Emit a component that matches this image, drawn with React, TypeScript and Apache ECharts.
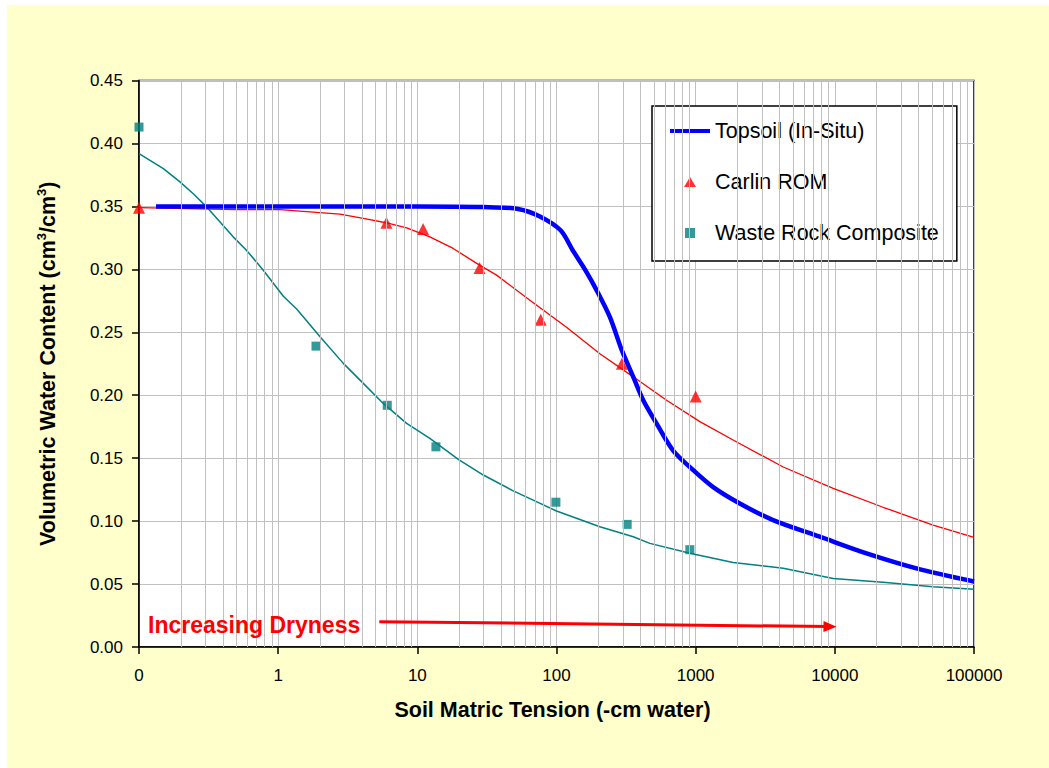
import React, { useEffect, useRef } from 'react';
import * as echarts from 'echarts';

const FONT = '"Liberation Sans", Arial, Helvetica, sans-serif';

// Soil matric tension (-cm water) vs volumetric water content (cm3/cm3)
const topsoilCurve: [number, number][] = [
  [0.1325, 0.35], [1, 0.35], [10, 0.35], [30, 0.3495], [53, 0.348], [76, 0.342],
  [107, 0.331], [131, 0.315], [160, 0.3], [194, 0.2835], [242, 0.262], [294, 0.236],
  [356, 0.2146], [420, 0.196], [523, 0.1776], [689, 0.156], [960, 0.1405], [1336, 0.127],
  [2075, 0.114], [3600, 0.1008], [7800, 0.0876], [16900, 0.0744], [38600, 0.0625], [100000, 0.052],
];

const carlinFit: [number, number][] = [
  [0.1, 0.349], [0.5, 0.3475], [1.03, 0.3475], [2.78, 0.3438], [4.09, 0.3404], [6.35, 0.3364],
  [8.38, 0.333], [12.3, 0.3258], [18.1, 0.3166], [26.7, 0.3047], [37.1, 0.2954], [64.4, 0.2755],
  [118, 0.254], [205, 0.233], [356, 0.2146], [618, 0.196], [1072, 0.179], [1858, 0.1644],
  [4256, 0.143], [9730, 0.126], [22200, 0.111], [50800, 0.0969], [100000, 0.087],
];

const wasteFit: [number, number][] = [
  [0.1, 0.392], [0.1496, 0.38], [0.197, 0.3695], [0.2455, 0.36], [0.31, 0.349], [0.475, 0.3258],
  [0.594, 0.315], [0.782, 0.2993], [1.089, 0.2786], [1.358, 0.2685], [2.0, 0.2464], [2.94, 0.2253],
  [4.09, 0.2094], [5.69, 0.1935], [8.38, 0.1776], [12.3, 0.1657], [19.7, 0.149],
  [29.8, 0.1366], [48.9, 0.124], [68, 0.1167], [100, 0.108], [205, 0.0955], [356, 0.0876],
  [469, 0.0823], [908, 0.0744], [1858, 0.0672], [4256, 0.0625], [9730, 0.0545], [22200, 0.0514],
  [50800, 0.0479], [100000, 0.0458],
];

const carlinPoints: [number, number][] = [
  [0.1, 0.349], [6, 0.337], [11, 0.332], [28, 0.301], [77, 0.26], [295, 0.225], [1000, 0.199],
];

const wastePoints: [number, number][] = [
  [0.1, 0.413], [1.87, 0.239], [6.08, 0.192], [13.6, 0.159], [99, 0.115], [322, 0.0974], [908, 0.0773],
];

const legendNames = ['Topsoil (In-Situ)', 'Carlin ROM', 'Waste Rock Composite'];
const decadeStarts = [0.1, 1, 10, 100, 1000, 10000];
const minorSteps = [2, 3, 4, 5, 6, 7, 8, 9];
const arrowStart: [number, number] = [5.33, 0.0201];
const arrowEnd: [number, number] = [9230, 0.0162];
const annotationText = 'Increasing Dryness';

// legend marker icons drawn inside a 40 x 11 box (keeps their own size)
const ICON_BOX = 'M0,0L0.01,0Z M40,11L39.99,11Z ';
const triIcon = 'path://' + ICON_BOX + 'M14,10.5L20,0.5L26,10.5Z';
const squareIcon = 'path://' + ICON_BOX + 'M15,0.5H25V10.5H15Z';

export default function App() {
  const ref = useRef<HTMLDivElement>(null);

  useEffect(() => {
    if (!ref.current) return;
    const chart = echarts.init(ref.current, null, { renderer: 'svg' });
    const minorLines = decadeStarts.flatMap((d) =>
      minorSteps.map((m) => ({ xAxis: Number((d * m).toPrecision(6)) }))
    );
    const axisBlack = { color: '#000000', width: 1.5 };

    chart.setOption({
      animation: false,
      backgroundColor: '#ffffff',
      textStyle: { fontFamily: FONT },
      graphic: [
        {
          type: 'rect',
          z: -10,
          silent: true,
          shape: { x: 7, y: 5, width: 1042, height: 763 },
          style: { fill: '#FFFFCC' },
        },
        {
          type: 'text',
          z: 100,
          silent: true,
          x: 148,
          y: 625,
          style: {
            text: annotationText,
            fill: '#FF0000',
            font: `bold 23px ${FONT}`,
            align: 'left',
            verticalAlign: 'middle',
          },
        },
      ],
      grid: {
        left: 139,
        top: 80.5,
        right: 75,
        bottom: 121,
        show: true,
        backgroundColor: '#ffffff',
        borderColor: '#000000',
        borderWidth: 1.5,
        outerBoundsMode: 'none',
      },
      legend: {
        orient: 'vertical',
        left: 652,
        top: 106,
        data: [
          {
            name: legendNames[0],
            itemStyle: { color: 'rgba(0,0,0,0)', opacity: 0, borderWidth: 0 },
            lineStyle: { color: '#0000FF', width: 4, type: 'solid' },
          },
          { name: legendNames[1], icon: triIcon, itemStyle: { color: '#FF0000', borderWidth: 0 } },
          { name: legendNames[2], icon: squareIcon, itemStyle: { color: '#008080', borderWidth: 0 } },
        ],
        backgroundColor: '#ffffff',
        borderColor: '#000000',
        borderWidth: 1.5,
        padding: [13.5, 18, 16.5, 16],
        itemGap: 28,
        itemWidth: 40,
        itemHeight: 11,
        selectedMode: false,
        textStyle: { fontSize: 21.5, color: '#000000', fontFamily: FONT, lineHeight: 23 },
      },
      xAxis: {
        type: 'log',
        logBase: 10,
        min: 0.1,
        max: 100000,
        name: 'Soil Matric Tension (-cm water)',
        nameLocation: 'middle',
        nameGap: 50,
        nameTextStyle: {
          fontSize: 21.5,
          fontWeight: 'bold',
          color: '#000000',
          fontFamily: FONT,
          lineHeight: 26,
          padding: [0, 8, 0, 0],
        },
        axisLine: { show: true, onZero: false, lineStyle: axisBlack },
        axisTick: { show: true, inside: false, length: 7, lineStyle: axisBlack },
        axisLabel: {
          fontSize: 17,
          color: '#000000',
          margin: 20,
          fontFamily: FONT,
          showMinLabel: true,
          showMaxLabel: true,
          formatter: (v: number) => (v < 0.5 ? '0' : String(Math.round(v))),
        },
        splitLine: { show: true, lineStyle: { color: '#C0C0C0', width: 1 } },
      },
      yAxis: {
        type: 'value',
        min: 0,
        max: 0.45,
        interval: 0.05,
        name: '{b|Volumetric Water Content (cm}{s|3}{b|/cm}{s|3}{b|)}',
        nameLocation: 'middle',
        nameGap: 78,
        nameRotate: 90,
        nameTextStyle: {
          rich: {
            b: { fontSize: 21.5, fontWeight: 'bold', color: '#000000', fontFamily: FONT, lineHeight: 26 },
            s: { fontSize: 13, fontWeight: 'bold', color: '#000000', fontFamily: FONT, lineHeight: 14, verticalAlign: 'top' },
          },
        },
        axisLine: { show: true, lineStyle: axisBlack },
        axisTick: { show: true, inside: false, length: 7, lineStyle: axisBlack },
        axisLabel: {
          fontSize: 17,
          color: '#000000',
          margin: 16,
          fontFamily: FONT,
          formatter: (v: number) => v.toFixed(2),
        },
        splitLine: { show: true, lineStyle: { color: '#C0C0C0', width: 1 } },
      },
      series: [
        {
          name: 'minor grid',
          type: 'line',
          data: [],
          z: 1,
          silent: true,
          markLine: {
            silent: true,
            animation: false,
            symbol: ['none', 'none'],
            label: { show: false },
            emphasis: { disabled: true },
            lineStyle: { color: '#C0C0C0', width: 1, type: 'solid' },
            data: minorLines,
          },
        },
        {
          name: 'Waste Rock fit',
          type: 'line',
          data: wasteFit,
          symbol: 'none',
          z: 2,
          silent: true,
          lineStyle: { color: '#008080', width: 1.5 },
          itemStyle: { color: '#008080' },
        },
        {
          name: 'Carlin ROM fit',
          type: 'line',
          data: carlinFit,
          symbol: 'none',
          z: 2,
          silent: true,
          lineStyle: { color: '#FF0000', width: 1.3 },
          itemStyle: { color: '#FF0000' },
        },
        {
          name: 'Topsoil (In-Situ)',
          type: 'line',
          data: topsoilCurve,
          symbol: 'none',
          smooth: 0.3,
          z: 3,
          silent: true,
          lineStyle: { color: '#0000FF', width: 4.5 },
          itemStyle: { color: '#0000FF' },
        },
        {
          name: 'Carlin ROM',
          type: 'scatter',
          data: carlinPoints,
          symbol: 'triangle',
          symbolSize: 12,
          z: 4,
          silent: true,
          itemStyle: { color: '#FF0000' },
        },
        {
          name: 'Waste Rock Composite',
          type: 'scatter',
          data: wastePoints,
          symbol: 'rect',
          symbolSize: 9,
          z: 4,
          silent: true,
          itemStyle: { color: '#008080' },
        },
        {
          name: 'arrow',
          type: 'line',
          data: [],
          z: 5,
          silent: true,
          markLine: {
            silent: true,
            animation: false,
            symbol: ['none', 'triangle'],
            symbolSize: 12,
            label: { show: false },
            emphasis: { disabled: true },
            lineStyle: { color: '#FF0000', width: 3, type: 'solid' },
            data: [[{ coord: arrowStart }, { coord: arrowEnd, symbolSize: [11, 13] }]],
          },
        },
      ],
    });

    return () => chart.dispose();
  }, []);

  return (
    <div
      ref={ref}
      style={{ position: 'absolute', left: 0, top: 0, width: 1049, height: 768 }}
    />
  );
}
